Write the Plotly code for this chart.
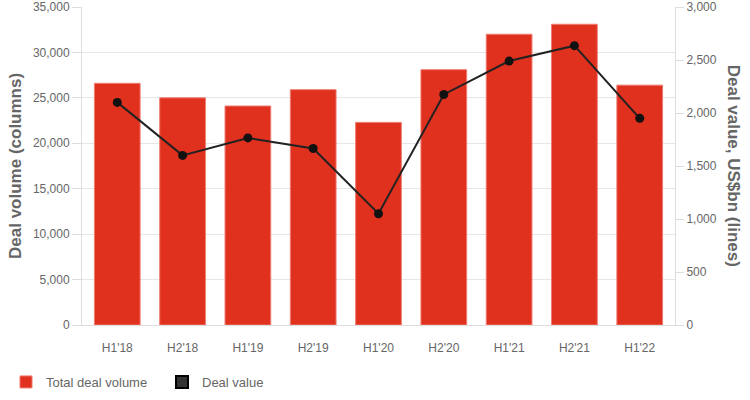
import plotly.graph_objects as go

categories = ["H1'18", "H2'18", "H1'19", "H2'19", "H1'20", "H2'20", "H1'21", "H2'21", "H1'22"]
deal_volume = [26600, 25000, 24100, 25900, 22300, 28100, 32000, 33100, 26400]
deal_value = [2100, 1600, 1765, 1665, 1050, 2175, 2490, 2635, 1950]
left_ticks = [0, 5000, 10000, 15000, 20000, 25000, 30000, 35000]
right_ticks = [0, 500, 1000, 1500, 2000, 2500, 3000]

FONT = "Arial, 'Liberation Sans', Helvetica, sans-serif"
GRAY = "#666666"

fig = go.Figure()
fig.add_trace(go.Bar(
    x=categories, y=deal_volume, name="Total deal volume",
    marker=dict(color="#e0301e", line=dict(color="#f07b70", width=1)),
    yaxis="y", legendrank=1,
))
fig.add_trace(go.Scatter(
    x=categories, y=deal_value, name="Deal value", mode="lines+markers",
    line=dict(color="#222222", width=2),
    marker=dict(color="#111111", size=9),
    yaxis="y2", showlegend=False, legendgroup="dv",
))
# legend swatch for the line series (box style)
fig.add_trace(go.Bar(
    x=[categories[0]], y=[None], name="Deal value",
    marker=dict(color="#333333", line=dict(color="#000000", width=2)),
    yaxis="y2", legendgroup="dv", legendrank=2, hoverinfo="skip",
))

fig.update_layout(
    width=750, height=400,
    margin=dict(l=82, r=75, t=7, b=75, autoexpand=False),
    paper_bgcolor="white", plot_bgcolor="white",
    font=dict(family=FONT, size=12, color=GRAY),
    bargap=0.3, barmode="overlay",
    showlegend=True,
    legend=dict(orientation="h", xref="container", yref="container",
                x=0.008, y=0.0075, xanchor="left", yanchor="bottom",
                entrywidth=111, entrywidthmode="pixels",
                font=dict(size=13, color=GRAY), traceorder="normal"),
    xaxis=dict(showgrid=False, showline=True, linecolor="#dddddd",
               ticks="", ticklabelstandoff=12, tickfont=dict(size=12, color=GRAY)),
    yaxis=dict(range=[0, 35000], tickvals=left_ticks, tickformat=",",
               showgrid=True, gridcolor="#e6e6e6", showline=True, linecolor="#dddddd",
               ticks="outside", ticklen=9, tickcolor="#dddddd",
               zeroline=False, tickfont=dict(size=12, color=GRAY)),
    yaxis2=dict(range=[0, 3000], tickvals=right_ticks, tickformat=",",
                overlaying="y", side="right", showgrid=False,
                showline=True, linecolor="#dddddd",
                ticks="outside", ticklen=8, tickcolor="#dddddd",
                zeroline=False, tickfont=dict(size=12, color=GRAY)),
    annotations=[
        dict(text="<b>Deal volume (columns)</b>", xref="paper", yref="paper",
             x=-0.113, y=0.5, xanchor="center", yanchor="middle",
             textangle=-90, showarrow=False, font=dict(size=17, color=GRAY)),
        dict(text="<b>Deal value, US$bn (lines)</b>", xref="paper", yref="paper",
             x=1.1, y=0.5, xanchor="center", yanchor="middle",
             textangle=90, showarrow=False, font=dict(size=17, color=GRAY)),
    ],
)

fig.write_html("out.html", config={"displayModeBar": False},
               post_script="document.body.style.margin='0';")
